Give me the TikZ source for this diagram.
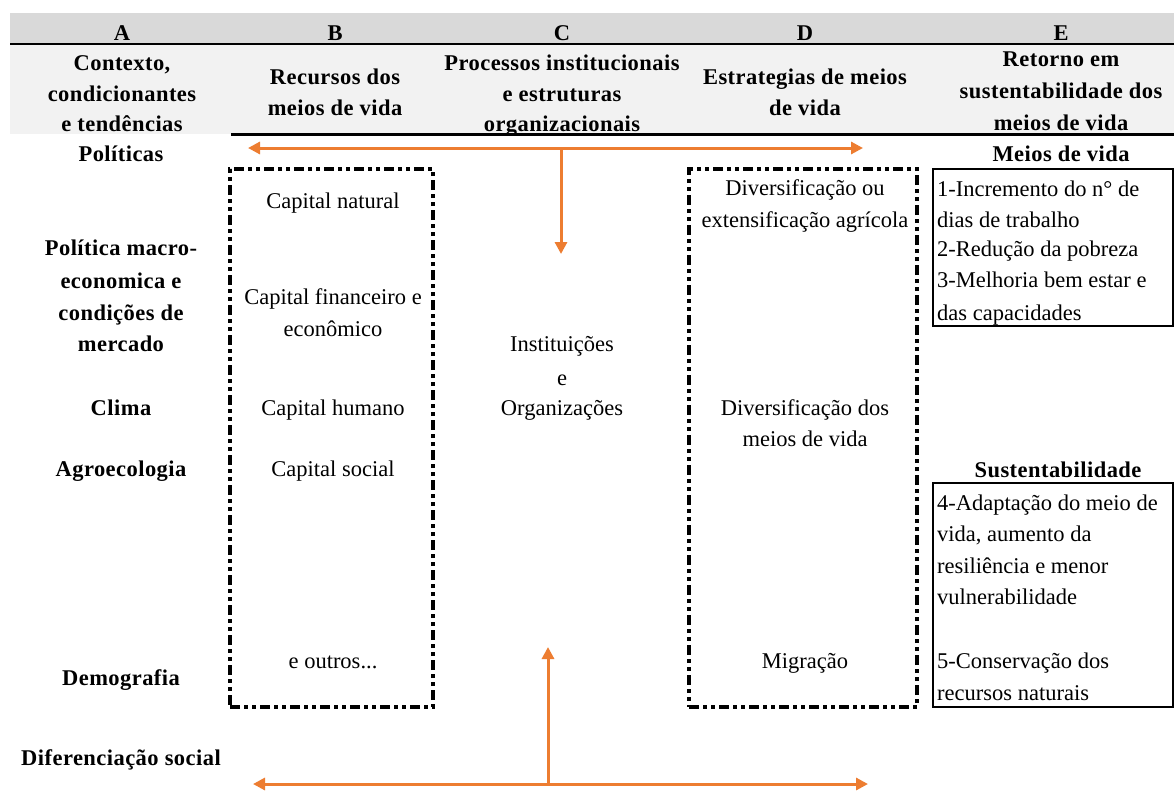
\documentclass[tikz,border=0pt]{standalone}
\usepackage{fontspec}
\setmainfont{Liberation Serif}
\newfontfamily\boldf{Liberation Serif}[LetterSpace=2]
\usetikzlibrary{arrows.meta}
\definecolor{orangeX}{HTML}{ED7D31}
\definecolor{headA}{HTML}{D9D9D9}
\definecolor{headB}{HTML}{F2F2F2}
\begin{document}
\begin{tikzpicture}[x=1pt,y=-1pt,
 txt/.style={anchor=base,inner sep=0pt,font=\fontsize{22.5}{27}\selectfont},
 btxt/.style={anchor=base,inner sep=0pt,font=\fontsize{22.5}{27}\selectfont\boldf\bfseries},
 ltxt/.style={txt,anchor=base west},
 dashbox/.style={draw,line width=3.5pt,inner sep=0pt,dash pattern=on 10pt off 4pt on 4pt off 4pt on 4pt off 4pt},
 solidbox/.style={draw,line width=2pt,inner sep=0pt},
 oline/.style={draw=orangeX,line width=3pt},
 oarrow/.style={oline,-{Triangle[length=12pt,width=12pt]}},
 odarrow/.style={oline,{Triangle[length=12pt,width=12pt]}-{Triangle[length=12pt,width=12pt]}},
]
\useasboundingbox[fill=white] (0,0) rectangle (1174,796);
% header bands
\fill[headA] (10,13) rectangle (1174,43);
\fill[headB] (10,44) rectangle (1174,134);
\draw[line width=2pt] (10,43.5) -- (1174,43.5);
\draw[line width=3pt] (231,134.5) -- (1174,134.5);
% header letters
\node[btxt] (hA) at (122,40) {A};
\node[btxt] (hB) at (335,40) {B};
\node[btxt] (hC) at (562,40) {C};
\node[btxt] (hD) at (805,40) {D};
\node[btxt] (hE) at (1061,40) {E};
% header titles
\node[btxt] (tA1) at (122,70) {Contexto,};
\node[btxt] (tA2) at (122,101) {condicionantes};
\node[btxt] (tA3) at (122,131) {e tendências};
\node[btxt] (tB1) at (335,84) {Recursos dos};
\node[btxt] (tB2) at (335,115) {meios de vida};
\node[btxt] (tC1) at (562,70) {Processos institucionais};
\node[btxt] (tC2) at (562,101) {e estruturas};
\node[btxt] (tC3) at (562,131) {organizacionais};
\node[btxt] (tD1) at (805,84) {Estrategias de meios};
\node[btxt] (tD2) at (805,115) {de vida};
\node[btxt] (tE1) at (1061,66) {Retorno em};
\node[btxt] (tE2) at (1061,98) {sustentabilidade dos};
\node[btxt] (tE3) at (1061,130) {meios de vida};
% column A
\node[btxt] (a1) at (121,161) {Políticas};
\node[btxt] (a2) at (121,255) {Política macro-};
\node[btxt] (a3) at (121,288) {economica e};
\node[btxt] (a4) at (121,320) {condições de};
\node[btxt] (a5) at (121,351) {mercado};
\node[btxt] (a6) at (121,415) {Clima};
\node[btxt] (a7) at (121,476) {Agroecologia};
\node[btxt] (a8) at (121,685) {Demografia};
\node[btxt] (a9) at (121,765) {Diferenciação social};
% boxes
\node[dashbox,minimum width=203pt,minimum height=538pt] (boxB) at (331.5,438) {};
\node[dashbox,minimum width=228pt,minimum height=538pt] (boxD) at (803,438) {};
\node[solidbox,minimum width=240pt,minimum height=157pt] (boxE1) at (1053,247.5) {};
\node[solidbox,minimum width=240pt,minimum height=224pt] (boxE2) at (1053,595) {};
% column B
\node[txt] (b1) at (333,208) {Capital natural};
\node[txt] (b2) at (333,304) {Capital financeiro e};
\node[txt] (b3) at (333,336) {econômico};
\node[txt] (b4) at (333,415) {Capital humano};
\node[txt] (b5) at (333,476) {Capital social};
\node[txt] (b6) at (333,668) {e outros...};
% column C
\node[txt] (c1) at (562,351) {Instituições};
\node[txt] (c2) at (562,385) {e};
\node[txt] (c3) at (562,415) {Organizações};
% column D
\node[txt] (d1) at (805,195) {Diversificação ou};
\node[txt] (d2) at (805,227) {extensificação agrícola};
\node[txt] (d3) at (805,415) {Diversificação dos};
\node[txt] (d4) at (805,446) {meios de vida};
\node[txt] (d5) at (805,668) {Migração};
% column E
\node[btxt] (e0) at (1061,161) {Meios de vida};
\node[ltxt] (e1) at (937,196) {1-Incremento do n° de};
\node[ltxt] (e2) at (937,227) {dias de trabalho};
\node[ltxt] (e3) at (937,256) {2-Redução da pobreza};
\node[ltxt] (e4) at (937,287) {3-Melhoria bem estar e};
\node[ltxt] (e5) at (937,320) {das capacidades};
\node[btxt] (s0) at (1058,477) {Sustentabilidade};
\node[ltxt] (s1) at (937,510) {4-Adaptação do meio de};
\node[ltxt] (s2) at (937,541) {vida, aumento da};
\node[ltxt] (s3) at (937,573) {resiliência e menor};
\node[ltxt] (s4) at (937,604) {vulnerabilidade};
\node[ltxt] (s5) at (937,668) {5-Conservação dos};
\node[ltxt] (s6) at (937,700) {recursos naturais};
% arrows
\coordinate (tl) at (248,148);
\coordinate (tr) at (863,148);
\coordinate (tm) at (561,148);
\coordinate (tdown) at (561,254);
\coordinate (bl) at (253,784);
\coordinate (br) at (868,784);
\coordinate (bm) at (548,784);
\coordinate (bup) at (548,647);
\draw[odarrow] (tl) -- (tr);
\draw[oarrow] (tm) -- (tdown);
\draw[odarrow] (bl) -- (br);
\draw[oarrow] (bm) -- (bup);
\end{tikzpicture}
\end{document}
